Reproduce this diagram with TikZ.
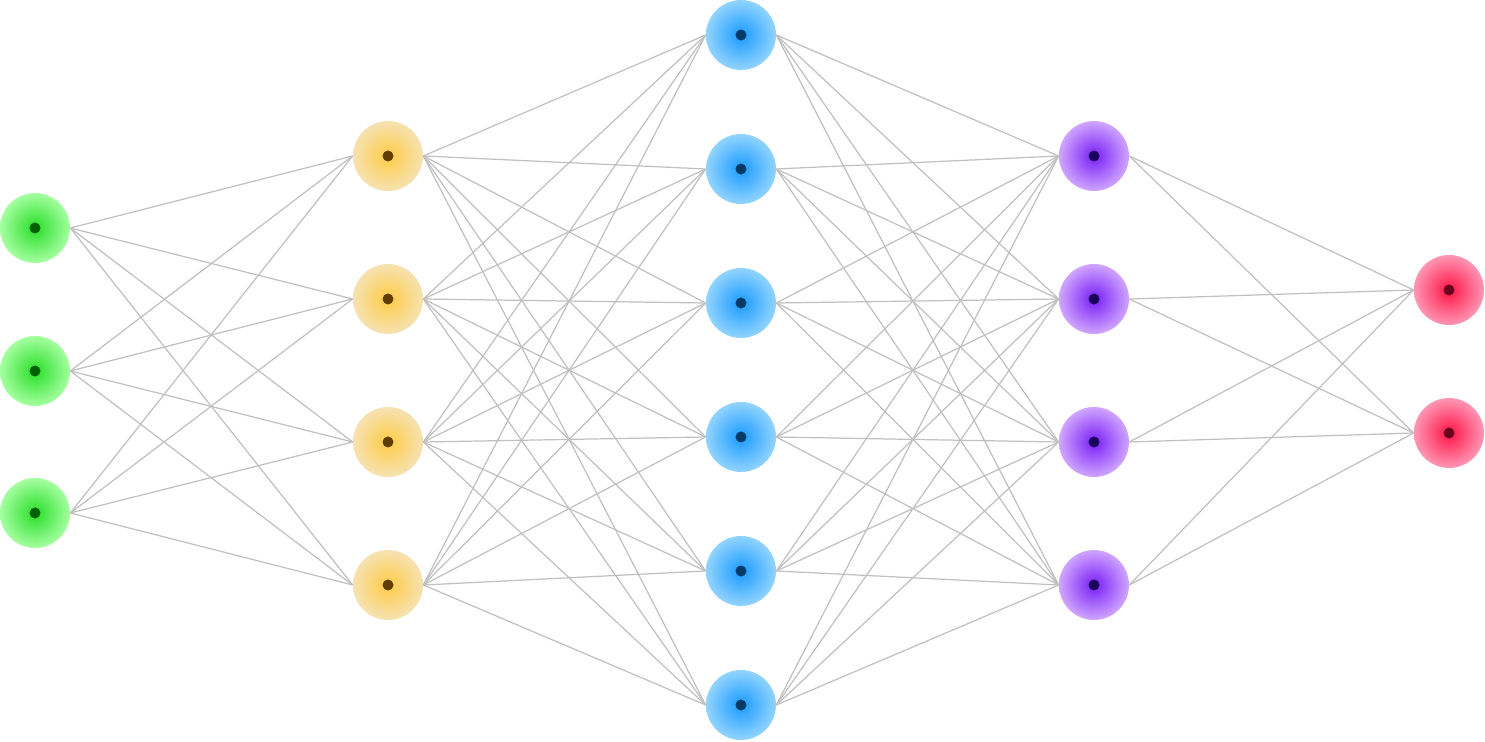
\documentclass[tikz,border=0pt]{standalone}
\usepackage{tikz}
\definecolor{linegray}{RGB}{192,192,192}
\definecolor{grin}{RGB}{40,222,40}
\definecolor{grout}{RGB}{165,255,160}
\definecolor{grdot}{RGB}{0,95,0}
\definecolor{orin}{RGB}{255,204,70}
\definecolor{orout}{RGB}{246,226,178}
\definecolor{ordot}{RGB}{95,62,0}
\definecolor{blin}{RGB}{26,154,255}
\definecolor{blout}{RGB}{145,212,255}
\definecolor{bldot}{RGB}{0,58,105}
\definecolor{puin}{RGB}{120,30,245}
\definecolor{puout}{RGB}{208,165,255}
\definecolor{pudot}{RGB}{28,0,95}
\definecolor{rein}{RGB}{255,20,70}
\definecolor{reout}{RGB}{255,150,180}
\definecolor{redot}{RGB}{105,0,32}
\tikzset{
  neuron/.style n args={3}{circle, minimum size=1.4cm, inner sep=0pt,
    inner color=#1, outer color=#2,
    path picture={\fill[#3] (path picture bounding box.center) circle (0.11cm);}},
  link/.style={draw=linegray, line width=0.7pt}
}
\begin{document}
\begin{tikzpicture}[x=0.02cm, y=-0.02cm]
		\useasboundingbox (0,0) rectangle (1485,742);
		
		% 输入层
		\foreach \i/\y in {1/228,2/371,3/513}
			\node[neuron={grin}{grout}{grdot}] (a\i) at (35,\y) {};
		% 隐藏层1
		\foreach \i/\y in {1/156,2/299,3/442,4/585}
			\node[neuron={orin}{orout}{ordot}] (b\i) at (388,\y) {};
		% 隐藏层2
		\foreach \i/\y in {1/35,2/169,3/303,4/437,5/571,6/705}
			\node[neuron={blin}{blout}{bldot}] (c\i) at (741,\y) {};
		% 隐藏层3
		\foreach \i/\y in {1/156,2/299,3/442,4/585}
			\node[neuron={puin}{puout}{pudot}] (d\i) at (1094,\y) {};
		% 输出层
		\foreach \i/\y in {1/290,2/433}
			\node[neuron={rein}{reout}{redot}] (e\i) at (1449,\y) {};
		
		% 连线
		\foreach \i in {1,...,3} \foreach \j in {1,...,4}
			\draw[link] (a\i.east) -- (b\j.west);
		\foreach \i in {1,...,4} \foreach \j in {1,...,6}
			\draw[link] (b\i.east) -- (c\j.west);
		\foreach \i in {1,...,6} \foreach \j in {1,...,4}
			\draw[link] (c\i.east) -- (d\j.west);
		\foreach \i in {1,...,4} \foreach \j in {1,2}
			\draw[link] (d\i.east) -- (e\j.west);
	\end{tikzpicture}
\end{document}
